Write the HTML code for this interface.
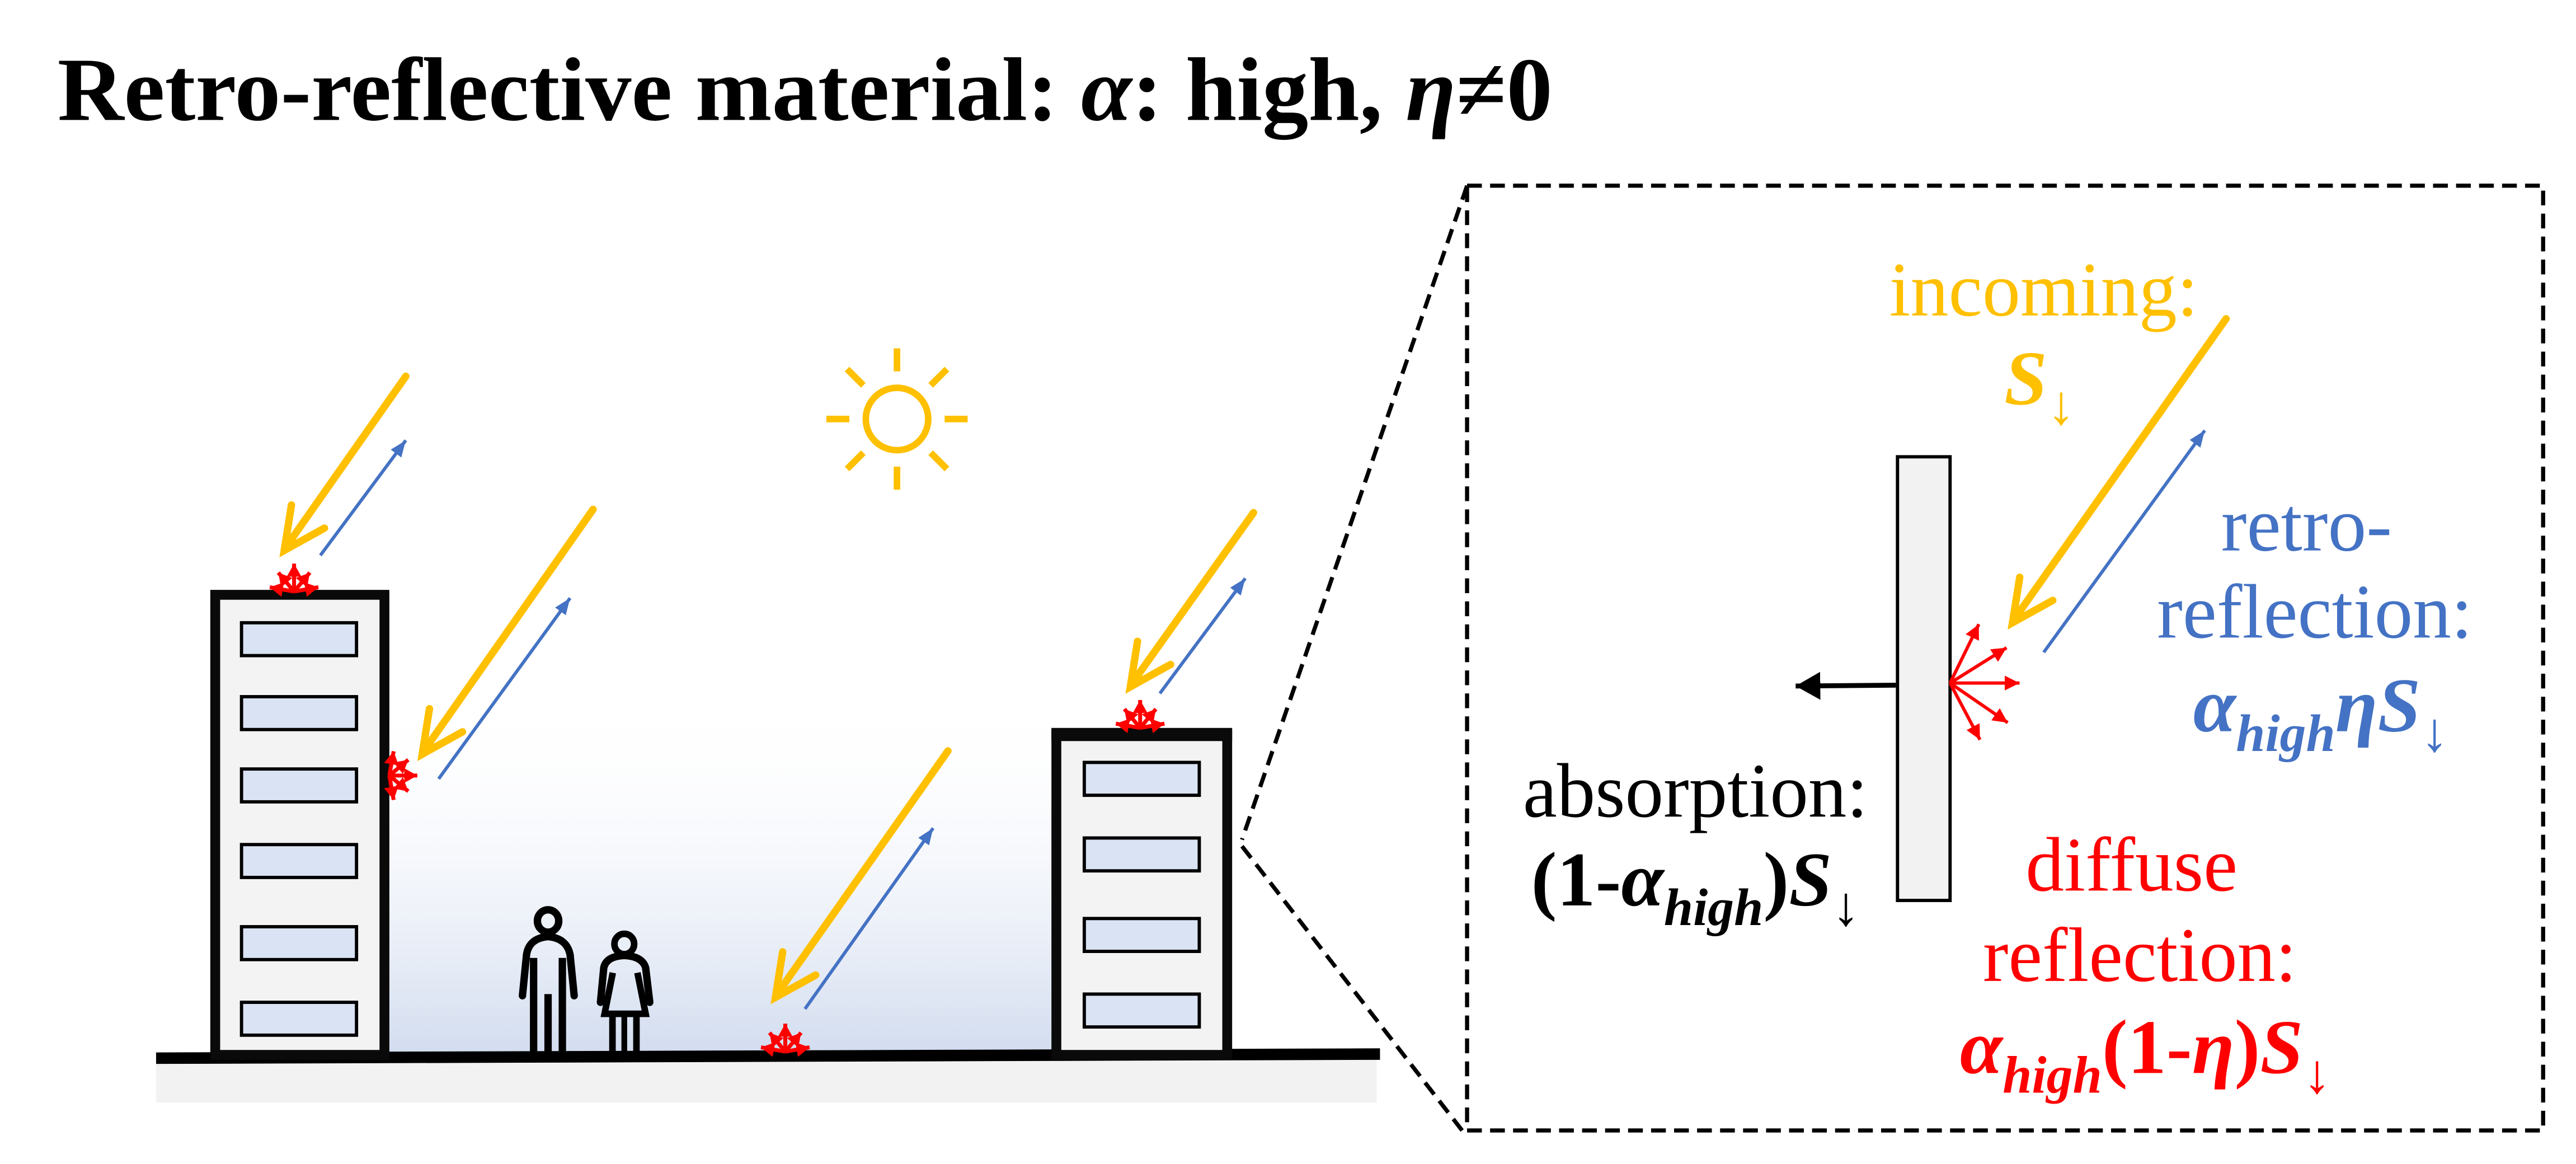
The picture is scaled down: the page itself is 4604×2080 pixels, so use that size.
<!DOCTYPE html>
<html><head><meta charset="utf-8"><style>
html,body{margin:0;padding:0;background:#fff;}
svg{display:block;}
text{font-family:"Liberation Serif","DejaVu Serif",serif;}
</style></head><body>
<svg width="4604" height="2080" viewBox="0 0 1568 708.4" xmlns="http://www.w3.org/2000/svg">
<defs>
<linearGradient id="sky" x1="0" y1="0" x2="0" y2="1">
<stop offset="0" stop-color="#ffffff" stop-opacity="0"/>
<stop offset="1" stop-color="#d2dcef"/>
</linearGradient>
<marker id="bh" markerUnits="userSpaceOnUse" markerWidth="12" markerHeight="10" refX="10" refY="4" orient="auto">
<path d="M0,0 L10,4 L0,8 Z" fill="#4472c4"/>
</marker>
<marker id="rh" markerUnits="userSpaceOnUse" markerWidth="12" markerHeight="10" refX="9" refY="4.5" orient="auto">
<path d="M0,0 L9,4.5 L0,9 Z" fill="#ff0000"/>
</marker>
<marker id="rhs" markerUnits="userSpaceOnUse" markerWidth="10" markerHeight="10" refX="8" refY="4.5" orient="auto">
<path d="M0,0 L8,4.5 L0,9 Z" fill="#ff0000"/>
</marker>
<marker id="kh" markerUnits="userSpaceOnUse" markerWidth="18" markerHeight="18" refX="15" refY="8.5" orient="auto">
<path d="M0,0 L15,8.5 L0,17 Z" fill="#000"/>
</marker>
<g id="burst" stroke="#ff0000" stroke-width="2.4" fill="none">
<line x1="0" y1="0" x2="-14.8" y2="-2.6" marker-end="url(#rhs)"/>
<line x1="0" y1="0" x2="-9.6" y2="-11.5" marker-end="url(#rhs)"/>
<line x1="0" y1="0" x2="0" y2="-17" marker-end="url(#rhs)"/>
<line x1="0" y1="0" x2="9.6" y2="-11.5" marker-end="url(#rhs)"/>
<line x1="0" y1="0" x2="14.8" y2="-2.6" marker-end="url(#rhs)"/>
</g>
</defs>

<text x="35" y="73" font-size="55" font-weight="bold" textLength="910" lengthAdjust="spacingAndGlyphs">Retro-reflective material: <tspan font-style="italic">α</tspan>: high, <tspan font-style="italic">η</tspan>≠0</text>

<rect x="237" y="420" width="403" height="222" fill="url(#sky)"/>
<rect x="95" y="645" width="743" height="26" fill="#f2f2f2"/>
<line x1="95" y1="644" x2="840" y2="641.5" stroke="#000" stroke-width="7"/>

<rect x="131" y="362" width="103" height="280" fill="#f3f3f3" stroke="#0a0a0a" stroke-width="6"/>
<g fill="#dae3f3" stroke="#000" stroke-width="2">
<rect x="147" y="379" width="70" height="20"/>
<rect x="147" y="424" width="70" height="20"/>
<rect x="147" y="468" width="70" height="20"/>
<rect x="147" y="514" width="70" height="20"/>
<rect x="147" y="564" width="70" height="20"/>
<rect x="147" y="610" width="70" height="20"/>
</g>
<rect x="643" y="447" width="104" height="195" fill="#f3f3f3" stroke="#0a0a0a" stroke-width="6"/>
<line x1="640" y1="447" x2="750" y2="447" stroke="#0a0a0a" stroke-width="8"/>
<g fill="#dae3f3" stroke="#000" stroke-width="2">
<rect x="660" y="464" width="70" height="20"/>
<rect x="660" y="510" width="70" height="20"/>
<rect x="660" y="559" width="70" height="20"/>
<rect x="660" y="605" width="70" height="20"/>
</g>

<g fill="none" stroke="#000" stroke-width="4.5" stroke-linecap="round" stroke-linejoin="round">
<ellipse cx="333.6" cy="560.5" rx="6.5" ry="6.8"/>
<path d="M318,606 L320.5,581 Q322,571 333.6,570 Q345,571 347,581 L349.5,606"/>
<path d="M365.5,610 L367.5,589 Q369,582 380,581.5 Q391,582 393,589 L395.5,610"/>
<ellipse cx="380" cy="574.5" rx="6" ry="6.2" stroke-width="4"/>
</g>
<g stroke="#000" stroke-width="4.5">
<line x1="324.8" y1="583" x2="324.8" y2="641"/>
<line x1="342.3" y1="583" x2="342.3" y2="641"/>
<line x1="333.6" y1="605" x2="333.6" y2="641"/>
<line x1="372.8" y1="619" x2="372.8" y2="641" stroke-width="4"/>
<line x1="380" y1="619" x2="380" y2="641" stroke-width="3.5"/>
<line x1="387.4" y1="619" x2="387.4" y2="641" stroke-width="4"/>
</g>
<path d="M373,592 L368,617 L393,617 L388,592" fill="none" stroke="#000" stroke-width="4" stroke-linejoin="miter"/>

<g stroke="#ffc000" stroke-width="4" fill="none">
<circle cx="546" cy="255" r="19"/>
<line x1="546" y1="226" x2="546" y2="212"/>
<line x1="546" y1="284" x2="546" y2="298"/>
<line x1="517" y1="255" x2="503" y2="255"/>
<line x1="575" y1="255" x2="589" y2="255"/>
<line x1="566.5" y1="234.5" x2="576.4" y2="224.6"/>
<line x1="525.5" y1="234.5" x2="515.6" y2="224.6"/>
<line x1="566.5" y1="275.5" x2="576.4" y2="285.4"/>
<line x1="525.5" y1="275.5" x2="515.6" y2="285.4"/>
</g>

<g stroke="#ffc000" stroke-width="4.5" fill="none" stroke-linecap="round" stroke-linejoin="miter">
<line x1="247" y1="229" x2="174" y2="333"/>
<polyline points="177.4,307.3 173,335 197.5,321.4"/>
<line x1="361" y1="310" x2="258" y2="457"/>
<polyline points="261.4,431.3 257,459 281.5,445.4"/>
<line x1="763" y1="312" x2="689" y2="416"/>
<polyline points="692.4,390.3 688,418 712.5,404.4"/>
<line x1="577" y1="457" x2="473" y2="605"/>
<polyline points="476.4,579.3 472,607 496.5,593.4"/>
<line x1="1355" y1="194" x2="1226" y2="377"/>
<polyline points="1229.4,351.3 1225,379 1249.5,365.4"/>
</g>

<g stroke="#4472c4" stroke-width="2" fill="none">
<line x1="195" y1="338" x2="247" y2="268" marker-end="url(#bh)"/>
<line x1="267" y1="474" x2="347" y2="364" marker-end="url(#bh)"/>
<line x1="706" y1="422" x2="758" y2="352" marker-end="url(#bh)"/>
<line x1="490" y1="614" x2="568" y2="504" marker-end="url(#bh)"/>
<line x1="1244" y1="397" x2="1342" y2="262" marker-end="url(#bh)"/>
</g>

<use href="#burst" transform="translate(179,360)"/>
<use href="#burst" transform="translate(237,472) rotate(90)"/>
<use href="#burst" transform="translate(694,443)"/>
<use href="#burst" transform="translate(478,640)"/>

<rect x="893" y="113" width="655" height="575" fill="none" stroke="#000" stroke-width="2.5" stroke-dasharray="9,5"/>
<line x1="893" y1="113" x2="756" y2="511" stroke="#000" stroke-width="2.5" stroke-dasharray="9,5"/>
<line x1="756" y1="515" x2="890" y2="688" stroke="#000" stroke-width="2.5" stroke-dasharray="9,5"/>

<rect x="1155" y="278" width="32" height="270" fill="#f2f2f2" stroke="#000" stroke-width="2"/>
<line x1="1154" y1="417" x2="1093" y2="417.5" stroke="#000" stroke-width="3" marker-end="url(#kh)"/>
<g stroke="#ff0000" stroke-width="2" fill="none">
<line x1="1187" y1="415.7" x2="1204.5" y2="379.9" marker-end="url(#rh)"/>
<line x1="1187" y1="415.7" x2="1221.4" y2="394.2" marker-end="url(#rh)"/>
<line x1="1187" y1="415.7" x2="1229.3" y2="415.7" marker-end="url(#rh)"/>
<line x1="1187" y1="415.7" x2="1222.1" y2="439.8" marker-end="url(#rh)"/>
<line x1="1187" y1="415.7" x2="1205.2" y2="450.2" marker-end="url(#rh)"/>
</g>

<text x="1150" y="192" font-size="47" fill="#ffc000" textLength="188" lengthAdjust="spacingAndGlyphs">incoming:</text>
<text x="1220" y="246" font-size="47" fill="#ffc000"><tspan font-weight="bold" font-style="italic">S</tspan><tspan font-size="34" dy="12">↓</tspan></text>

<text x="1352" y="335" font-size="47" fill="#4472c4" textLength="104" lengthAdjust="spacingAndGlyphs">retro-</text>
<text x="1313" y="388" font-size="47" fill="#4472c4" textLength="192" lengthAdjust="spacingAndGlyphs">reflection:</text>
<text x="1335" y="445" font-size="47" fill="#4472c4" font-weight="bold" font-style="italic"><tspan>α</tspan><tspan font-size="32" dy="12">high</tspan><tspan dy="-12">ηS</tspan><tspan font-size="34" dy="12" font-weight="normal" font-style="normal">↓</tspan></text>

<text x="927" y="497" font-size="47" fill="#000" textLength="210" lengthAdjust="spacingAndGlyphs">absorption:</text>
<text x="932" y="551" font-size="47" fill="#000" font-weight="bold"><tspan>(1-</tspan><tspan font-style="italic">α</tspan><tspan font-size="32" dy="12" font-style="italic">high</tspan><tspan dy="-12">)</tspan><tspan font-style="italic">S</tspan><tspan font-size="34" dy="12" font-weight="normal">↓</tspan></text>

<text x="1233" y="542" font-size="47" fill="#ff0000" textLength="129" lengthAdjust="spacingAndGlyphs">diffuse</text>
<text x="1207" y="597" font-size="47" fill="#ff0000" textLength="191" lengthAdjust="spacingAndGlyphs">reflection:</text>
<text x="1193" y="653" font-size="47" fill="#ff0000" font-weight="bold"><tspan font-style="italic">α</tspan><tspan font-size="32" dy="12" font-style="italic">high</tspan><tspan dy="-12">(1-</tspan><tspan font-style="italic">η</tspan><tspan>)</tspan><tspan font-style="italic">S</tspan><tspan font-size="34" dy="12" font-weight="normal">↓</tspan></text>
</svg>
</body></html>
